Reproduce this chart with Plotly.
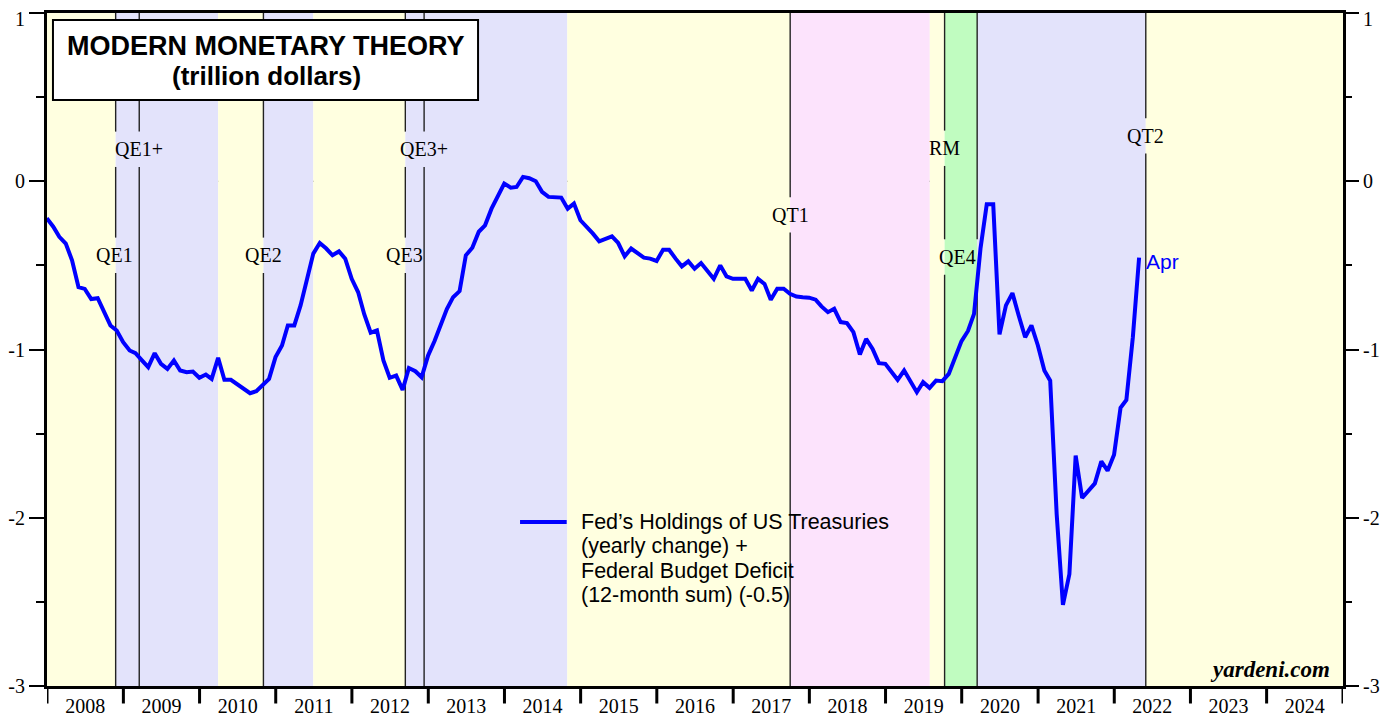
import pandas as pd
import plotly.graph_objects as go

# ---------------- data ----------------
# monthly values, Dec 2007 .. Apr 2022 (trillion dollars), plotted at month end
start_month = "2007-12"
values = [
    -0.22, -0.27, -0.33, -0.37, -0.47, -0.63, -0.64, -0.70, -0.695, -0.77,
    -0.857, -0.887, -0.956, -1.006, -1.022, -1.065, -1.105, -1.022, -1.085, -1.115,
    -1.065, -1.125, -1.135, -1.131, -1.168, -1.149, -1.175, -1.05, -1.18, -1.18,
    -1.205, -1.234, -1.26, -1.248, -1.208, -1.175, -1.045, -0.976, -0.857, -0.857,
    -0.738, -0.57, -0.43, -0.367, -0.40, -0.44, -0.417, -0.46, -0.58, -0.66,
    -0.79, -0.90, -0.887, -1.065, -1.168, -1.155, -1.24, -1.11, -1.129, -1.165,
    -1.036, -0.95, -0.86, -0.76, -0.689, -0.653, -0.44, -0.395, -0.30, -0.262,
    -0.163, -0.09, -0.014, -0.038, -0.034, 0.026, 0.018, 0.0, -0.063, -0.093,
    -0.097, -0.097, -0.163, -0.133, -0.232, -0.27, -0.31, -0.357, -0.34, -0.327,
    -0.367, -0.446, -0.40, -0.43, -0.454, -0.46, -0.474, -0.407, -0.407, -0.46,
    -0.506, -0.476, -0.52, -0.486, -0.53, -0.58, -0.50, -0.565, -0.58, -0.58,
    -0.58, -0.649, -0.58, -0.61, -0.704, -0.639, -0.639, -0.669, -0.685, -0.69,
    -0.692, -0.704, -0.744, -0.778, -0.758, -0.837, -0.843, -0.897, -1.03, -0.937,
    -0.996, -1.081, -1.085, -1.135, -1.18, -1.125, -1.194, -1.254, -1.194, -1.228,
    -1.185, -1.188, -1.145, -1.045, -0.95, -0.89, -0.788, -0.40, -0.137, -0.137,
    -0.91, -0.738, -0.665, -0.798, -0.927, -0.857, -0.976, -1.125, -1.185, -1.978,
    -2.518, -2.335, -1.631, -1.883, -1.839, -1.796, -1.665, -1.72, -1.625, -1.347,
    -1.30, -0.927, -0.454,
]
series_name = ["Fed’s Holdings of US Treasuries", "(yearly change) +",
               "Federal Budget Deficit", "(12-month sum) (-0.5)"]
last_label = "Apr"

# policy regimes (start, end, colour key)
regime_starts = ["2008-01-01", "2008-11-25", "2010-03-31", "2010-11-03", "2011-06-30",
                 "2012-09-13", "2014-10-29", "2017-10-01", "2019-08-01", "2019-10-11",
                 "2020-03-15", "2022-06-01"]
regime_ends = ["2008-11-25", "2010-03-31", "2010-11-03", "2011-06-30", "2012-09-13",
               "2014-10-29", "2017-10-01", "2019-08-01", "2019-10-11", "2020-03-15",
               "2022-06-01", "2025-01-01"]
regime_kind = ["none", "qe", "none", "qe", "none", "qe", "none", "qt", "none", "rm", "qe", "none"]

# event markers
event_dates = ["2008-11-25", "2009-03-18", "2010-11-03", "2012-09-13", "2012-12-12",
               "2017-10-01", "2019-10-11", "2020-03-15", "2022-06-01"]
event_labels = ["QE1", "QE1+", "QE2", "QE3", "QE3+", "QT1", "RM", "QE4", "QT2"]
label_x = ["2008-11-20", "2009-03-18", "2010-11-03", "2012-09-08", "2012-12-10",
           "2017-10-01", "2019-10-09", "2019-12-13", "2022-06-01"]
label_y = [-0.44, 0.19, -0.44, -0.44, 0.19, -0.20, 0.196, -0.45, 0.27]
# label gaps crossed by each event line (y-centres)
line_gaps = [[-0.44, 0.19], [0.19], [-0.44], [-0.44, 0.19], [0.19],
             [-0.20], [0.196, -0.45], [-0.45], [0.27]]

years = list(range(2008, 2026))
y_ticks = [-3, -2, -1, 0, 1]
y_ticktext = ["-3", "-2", "-1", "0", "1"]

# ---------------- figure ----------------
months = pd.period_range(start=start_month, periods=len(values), freq="M")
x_dates = [m.to_timestamp(how="end").normalize() for m in months]

colors = {"none": "#FFFFE0", "qe": "#E3E3FB", "qt": "#FCE3FC", "rm": "#C0FCC0"}
SERIF = "Liberation Serif"
SANS = "Liberation Sans"

shapes = []
for s, e, k in zip(regime_starts, regime_ends, regime_kind):
    shapes.append(dict(type="rect", xref="x", yref="y", x0=s, x1=e, y0=-3, y1=1,
                       fillcolor=colors[k], line=dict(width=0), layer="below"))

# zero line
shapes.append(dict(type="line", xref="paper", yref="y", x0=0, x1=1, y0=0, y1=0,
                   line=dict(color="black", width=1.2), layer="below"))

half_gap = 0.105
for d, gaps in zip(event_dates, line_gaps):
    segs = []
    lo = -3.0
    for g in sorted(gaps):
        segs.append((lo, g - half_gap))
        lo = g + half_gap
    segs.append((lo, 1.0))
    for a, b in segs:
        shapes.append(dict(type="line", xref="x", yref="y", x0=d, x1=d, y0=a, y1=b,
                           line=dict(color="#222222", width=1.4), layer="below"))

# year tick marks below axis
for yr in years:
    shapes.append(dict(type="line", xref="x", yref="paper", x0=f"{yr}-01-01", x1=f"{yr}-01-01",
                       y0=0, y1=-0.026, line=dict(color="black", width=3)))

# title box
shapes.append(dict(type="rect", xref="paper", yref="paper", x0=0.0046, x1=0.3326,
                   y0=0.8707, y1=0.9896, fillcolor="white",
                   line=dict(color="black", width=2), layer="above"))
# legend line
shapes.append(dict(type="line", xref="paper", yref="paper", x0=0.365, x1=0.401,
                   y0=0.2437, y1=0.2437, line=dict(color="#0000FF", width=4)))

fig = go.Figure()
fig.add_trace(go.Scatter(x=x_dates, y=values, mode="lines",
                         line=dict(color="#0000FF", width=4), hoverinfo="skip",
                         showlegend=False))
fig.add_trace(go.Scatter(x=[x_dates[0]], y=[0], yaxis="y2", mode="markers",
                         marker=dict(opacity=0), hoverinfo="skip", showlegend=False))

annotations = []
for lx, ly, t in zip(label_x, label_y, event_labels):
    annotations.append(dict(x=lx, y=ly, xref="x", yref="y", text=t, showarrow=False,
                            xanchor="center", yanchor="middle",
                            font=dict(family=SERIF, size=20, color="black")))

annotations.append(dict(x=0.169, y=0.951, xref="paper", yref="paper",
                        text="<b>MODERN MONETARY THEORY</b>", showarrow=False,
                        xanchor="center", yanchor="middle",
                        font=dict(family=SANS, size=27, color="black")))
annotations.append(dict(x=0.169, y=0.9064, xref="paper", yref="paper",
                        text="<b>(trillion dollars)</b>", showarrow=False,
                        xanchor="center", yanchor="middle",
                        font=dict(family=SANS, size=26, color="black")))

for txt, yy in zip(series_name, [0.2437, 0.2073, 0.1709, 0.1352]):
    annotations.append(dict(x=0.4105, y=yy, xref="paper", yref="paper", text=txt,
                            showarrow=False, xanchor="left", yanchor="middle",
                            font=dict(family=SANS, size=21.5, color="black")))

annotations.append(dict(x=x_dates[-1], y=values[-1], xref="x", yref="y", text=last_label,
                        showarrow=False, xanchor="left", yanchor="middle", xshift=5, yshift=-4,
                        font=dict(family=SANS, size=21, color="#0000FF")))

annotations.append(dict(x=0.9915, y=0.0238, xref="paper", yref="paper",
                        text="<b><i>yardeni.com</i></b>", showarrow=False,
                        xanchor="right", yanchor="middle",
                        font=dict(family=SERIF, size=23, color="black")))

# top tick labels ("1") drawn as annotations, nudged down so they are not clipped
top_text = y_ticktext[-1]
annotations.append(dict(x=0, y=y_ticks[-1], xref="paper", yref="y", text=top_text,
                        showarrow=False, xanchor="right", yanchor="middle",
                        xshift=-20, yshift=-6,
                        font=dict(family=SERIF, size=20, color="black")))
annotations.append(dict(x=1, y=y_ticks[-1], xref="paper", yref="y", text=top_text,
                        showarrow=False, xanchor="left", yanchor="middle",
                        xshift=18, yshift=-6,
                        font=dict(family=SERIF, size=20, color="black")))
axis_ticktext = y_ticktext[:-1] + [""]

yaxis_common = dict(range=[-3, 1], tickmode="array", tickvals=y_ticks, ticktext=axis_ticktext,
                    ticks="outside", ticklen=15, tickwidth=1.5, tickcolor="black",
                    minor=dict(dtick=0.5, tick0=0, ticks="outside", ticklen=8,
                               tickwidth=1.5, tickcolor="black"),
                    tickfont=dict(family=SERIF, size=20, color="black"),
                    ticklabeloverflow="allow",
                    showgrid=False, zeroline=False, automargin=False)

# the page body adds an 8px offset, so margins are reduced accordingly
fig.update_layout(
    width=1395, height=717,
    margin=dict(l=39, r=60, t=5, b=39, autoexpand=False),
    paper_bgcolor="white", plot_bgcolor="white",
    showlegend=False, hovermode=False,
    xaxis=dict(type="date", range=["2008-01-01", "2025-01-01"],
               tick0="2008-01-01", dtick="M12", tickformat="%Y",
               ticklabelmode="period", ticks="",
               showline=True, linecolor="black", linewidth=3, mirror=True,
               showgrid=False, zeroline=False, automargin=False,
               tickfont=dict(family=SERIF, size=20, color="black")),
    yaxis=dict(**yaxis_common, showline=True, linecolor="black", linewidth=3, mirror=True),
    yaxis2=dict(**yaxis_common, overlaying="y", side="right", showline=False),
    shapes=shapes,
    annotations=annotations,
)

fig.write_html("out.html")
